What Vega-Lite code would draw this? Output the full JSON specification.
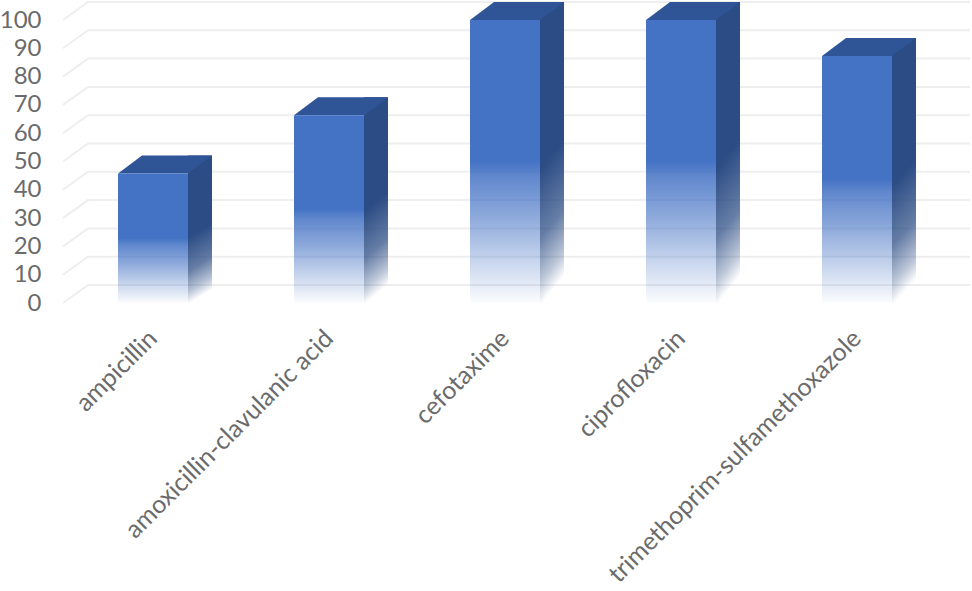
{
  "$schema": "https://vega.github.io/schema/vega-lite/v6.json",
  "description": "3D-look bars of antibiotic values with a receding grid",
  "width": 880,
  "height": 283,
  "padding": {"left": 65, "top": 20, "right": 27, "bottom": 288},
  "autosize": "none",
  "background": "white",
  "config": {
    "view": {"stroke": null},
    "axis": {"labelFont": "Lato", "labelColor": "#6b6b6b", "domain": false, "ticks": false, "grid": false, "title": null, "labelOverlap": false}
  },
  "datasets": {
    "bars": [
      {"antibiotic": "ampicillin", "value": 45.8},
      {"antibiotic": "amoxicillin-clavulanic acid", "value": 66.3},
      {"antibiotic": "cefotaxime", "value": 100},
      {"antibiotic": "ciprofloxacin", "value": 100},
      {"antibiotic": "trimethoprim-sulfamethoxazole", "value": 87.3}
    ],
    "grid": [
      {"tick": 0}, {"tick": 10}, {"tick": 20}, {"tick": 30}, {"tick": 40}, {"tick": 50},
      {"tick": 60}, {"tick": 70}, {"tick": 80}, {"tick": 90}, {"tick": 100}
    ]
  },
  "resolve": {"axis": {"y": "shared"}, "scale": {"y": "shared"}},
  "encoding": {
    "y": {
      "type": "quantitative",
      "scale": {"domain": [0, 100]},
      "axis": {"values": [0, 10, 20, 30, 40, 50, 60, 70, 80, 90, 100], "tickCount": 11, "labelFontSize": 24, "labelPadding": 24, "labelOverlap": false}
    }
  },
  "layer": [
    {
      "data": {"name": "grid"},
      "mark": {
        "type": "point",
        "shape": "M0,0 L25,-18 L907,-18",
        "size": 4,
        "filled": false,
        "fill": null,
        "stroke": "#eeeeee",
        "strokeWidth": 2,
        "opacity": 1
      },
      "encoding": {
        "x": {"value": -2},
        "y": {"field": "tick"}
      }
    },
    {
      "data": {"name": "bars"},
      "mark": {
        "type": "bar",
        "width": 24,
        "xOffset": 47,
        "yOffset": -18,
        "color": {
          "gradient": "linear",
          "x1": 0, "y1": 0, "x2": 0.1, "y2": 1,
          "stops": [
            {"offset": 0, "color": "#2b4c84"},
            {"offset": 0.55, "color": "#2b4c84"},
            {"offset": 0.78, "color": "rgba(43,76,132,0.72)"},
            {"offset": 0.92, "color": "rgba(43,76,132,0.32)"},
            {"offset": 1, "color": "rgba(43,76,132,0)"}
          ]
        }
      },
      "encoding": {
        "x": {
          "field": "antibiotic",
          "type": "nominal",
          "sort": null,
          "scale": {"paddingInner": 0, "paddingOuter": 0},
          "axis": {"labelAngle": -45, "labelAlign": "right", "labelBaseline": "middle", "labelFontSize": 25, "labelPadding": 31, "labelLimit": 500, "labelOverlap": false}
        },
        "y": {"field": "value"},
        "y2": {"datum": 0}
      }
    },
    {
      "data": {"name": "bars"},
      "mark": {
        "type": "point",
        "shape": "M-35,0 L-11,-18 L59,-18 L35,0 Z",
        "size": 4,
        "filled": true,
        "fill": "#2f5597",
        "opacity": 1
      },
      "encoding": {
        "x": {"field": "antibiotic", "type": "nominal", "sort": null},
        "y": {"field": "value"}
      }
    },
    {
      "data": {"name": "bars"},
      "mark": {
        "type": "bar",
        "width": 70,
        "color": {
          "gradient": "linear",
          "x1": 0, "y1": 0, "x2": 0, "y2": 1,
          "stops": [
            {"offset": 0, "color": "#4472c4"},
            {"offset": 0.5, "color": "#4472c4"},
            {"offset": 0.55, "color": "rgba(68,114,196,0.85)"},
            {"offset": 0.7, "color": "rgba(68,114,196,0.6)"},
            {"offset": 0.85, "color": "rgba(68,114,196,0.3)"},
            {"offset": 1, "color": "rgba(68,114,196,0.02)"}
          ]
        }
      },
      "encoding": {
        "x": {"field": "antibiotic", "type": "nominal", "sort": null},
        "y": {"field": "value"},
        "y2": {"datum": 0}
      }
    }
  ]
}
